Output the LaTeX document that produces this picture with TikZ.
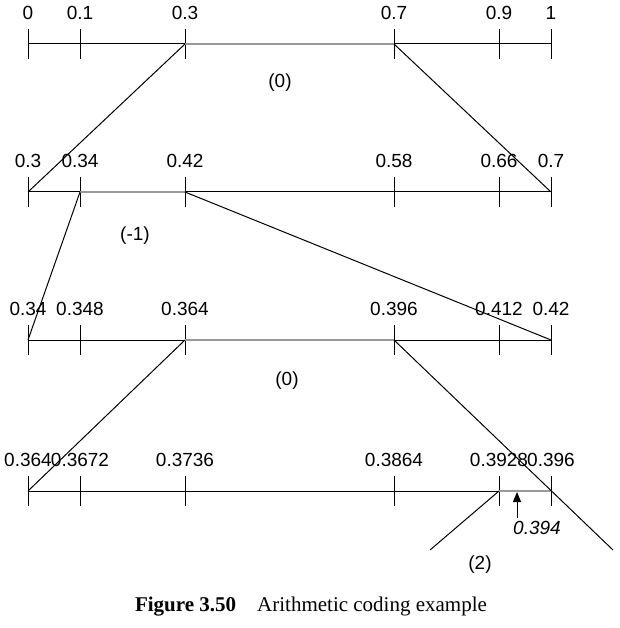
\documentclass[tikz,border=0pt]{standalone}
\usepackage{fontspec}
\setmainfont{Liberation Sans}
\newfontfamily\capfont{Liberation Serif}
\usetikzlibrary{arrows.meta}
\begin{document}
\begin{tikzpicture}[x=1pt,y=-1pt,line width=1pt,
  lbl/.style={font=\fontsize{19}{21}\selectfont,inner sep=0pt},
  hi/.style={draw=gray!80,line width=2pt}]
\useasboundingbox (0,0) rectangle (619,628);
\foreach \y/\labs [count=\r] in {44/{0,0.1,0.3,0.7,0.9,1},192/{0.3,0.34,0.42,0.58,0.66,0.7},340/{0.34,0.348,0.364,0.396,0.412,0.42},491/{0.364,0.3672,0.3736,0.3864,0.3928,0.396}}{
  \draw (28,\y) -- (551,\y);
  \foreach \x/\l [count=\i] in {28/A,80/B,185/C,394/D,499/E,551/F}{
    \draw (\x,\y-15) -- (\x,\y+15);
    \coordinate (p\r\l) at (\x,\y);
  }
  \foreach \t [count=\i] in \labs {
    \pgfmathsetmacro\xx{{28,80,185,394,499,551}[\i-1]}
    \node[lbl] at (\xx,\y-31) {\t};
  }
}
\draw[hi] (p1C) -- (p1D);
\draw[hi] (p2B) -- (p2C);
\draw[hi] (p3C) -- (p3D);
\draw[hi] (p4E) -- (p4F);
\coordinate (e1) at (613,550);
\coordinate (e2) at (430,550);
\draw (p1C) -- (p2A);
\draw (p1D) -- (p2F);
\draw (p2B) -- (p3A);
\draw (p2C) -- (p3F);
\draw (p3C) -- (p4A);
\draw (p3D) -- (e1);
\draw (p4E) -- (e2);
\coordinate (ab) at (517,518);
\coordinate (at) at (517,492);
\draw[-{Triangle[length=10pt,width=8pt]}] (ab) -- (at);
\node[lbl,font=\fontsize{19}{21}\selectfont\itshape] (v) at (537,528) {0.394};
\node[lbl] at (280,83) {(0)};
\node[lbl] at (135,236) {(-1)};
\node[lbl] at (287,381) {(0)};
\node[lbl] at (480,565) {(2)};
\node[inner sep=0pt,font=\capfont\fontsize{21}{23}\selectfont] at (311,607) {\textbf{Figure 3.50}\quad Arithmetic coding example};
\end{tikzpicture}
\end{document}
